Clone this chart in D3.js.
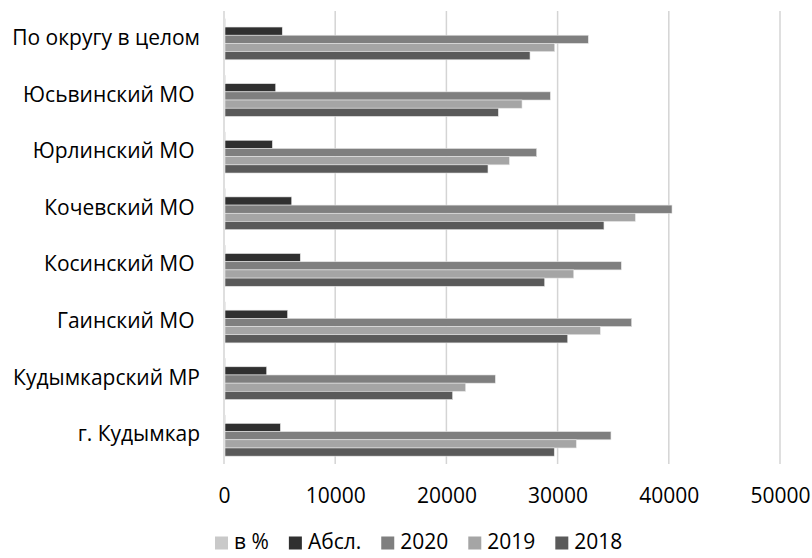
<!DOCTYPE html>
<html>
<head>
<meta charset="utf-8">
<script src="https://cdn.jsdelivr.net/npm/d3@7"></script>
<style>
  html, body { margin: 0; padding: 0; background: #fff; }
  svg { display: block; font-family: "Open Sans", "Noto Sans", sans-serif; }
  text { white-space: pre; }
</style>
</head>
<body>
<svg id="chart" width="812" height="558"></svg>
<script>
// Categories, top to bottom
const categories = [
  "По округу в целом",
  "Юсьвинский МО ",
  "Юрлинский МО ",
  "Кочевский МО ",
  "Косинский МО ",
  "Гаинский МО ",
  "Кудымкарский МР",
  "г. Кудымкар"
];
// Series (legend order)
const seriesNames = ["в %", "Абсл.", "2020", "2019", "2018"];
const valuesPct  = [119, 119, 118, 118, 124, 119, 119, 117];
const valuesAbs  = [5240, 4650, 4350, 6090, 6860, 5720, 3840, 5070];
const values2020 = [32760, 29350, 28120, 40290, 35730, 36660, 24400, 34800];
const values2019 = [29740, 26800, 25660, 36990, 31450, 33840, 21730, 31680];
const values2018 = [27520, 24670, 23740, 34170, 28840, 30910, 20560, 29700];
const seriesColors = ["#c9c9c9", "#303030", "#7f7f7f", "#a5a5a5", "#5a5a5a"];
const xTicks = [0, 10000, 20000, 30000, 40000, 50000];

const seriesValues = [valuesPct, valuesAbs, values2020, values2019, values2018];

const svg = d3.select("#chart");
const plotLeft = 224, plotRight = 780, plotTop = 11, plotBottom = 464;
const FS = 21;

const x = d3.scaleLinear().domain([0, 50000]).range([plotLeft, plotRight]);
const y = d3.scaleBand().domain(categories).range([plotTop, plotBottom])
  .paddingInner(0.277).paddingOuter(0.1385);
const ys = d3.scaleBand().domain(seriesNames).range([0, y.bandwidth()]);

// gridlines
svg.append("g").selectAll("line").data(xTicks).join("line")
  .attr("x1", d => x(d)).attr("x2", d => x(d))
  .attr("y1", plotTop).attr("y2", plotBottom)
  .attr("stroke", "#d4d4d4").attr("stroke-width", 1.5);

// bars
const groups = svg.append("g").selectAll("g").data(categories).join("g")
  .attr("transform", d => `translate(0,${y(d)})`);
groups.selectAll("rect")
  .data((c, i) => seriesNames.map((s, j) => ({ s, v: seriesValues[j][i], c: seriesColors[j] })))
  .join("rect")
  .attr("x", x(0) + 1)
  .attr("y", d => ys(d.s))
  .attr("width", d => Math.max(0, x(d.v) - x(0) - 1))
  .attr("height", ys.bandwidth())
  .attr("fill", d => d.c)
  .attr("stroke", "#e6e6e6").attr("stroke-width", 0.6);

// category labels
svg.append("g").selectAll("text").data(categories).join("text")
  .attr("x", 200)
  .attr("y", d => y(d) + y.bandwidth() / 2)
  .attr("text-anchor", "end")
  .attr("dominant-baseline", "middle")
  .attr("font-size", FS)
  .attr("fill", "#000")
  .text(d => d);

// x axis tick labels
const xAxis = d3.axisBottom(x).tickValues(xTicks).tickSize(0).tickPadding(0)
  .tickFormat(d3.format("d"));
const gx = svg.append("g").attr("transform", `translate(0,${487})`).call(xAxis);
gx.select(".domain").remove();
gx.selectAll("text").attr("font-size", FS).attr("fill", "#000")
  .attr("font-family", '"Open Sans", "Noto Sans", sans-serif')
  .attr("dy", "0.75em");

// legend
const legend = svg.append("g").attr("transform", "translate(0,543)");
let lx = 215;
seriesNames.forEach((s, i) => {
  const g = legend.append("g").attr("transform", `translate(${lx},0)`);
  g.append("rect").attr("x", 0).attr("y", -6.5).attr("width", 13).attr("height", 13)
    .attr("fill", seriesColors[i]);
  const t = g.append("text").attr("x", 19).attr("y", 0)
    .attr("dominant-baseline", "middle").attr("font-size", FS).attr("fill", "#000").text(s);
  lx += 19 + t.node().getComputedTextLength() + 20;
});
</script>
</body>
</html>
